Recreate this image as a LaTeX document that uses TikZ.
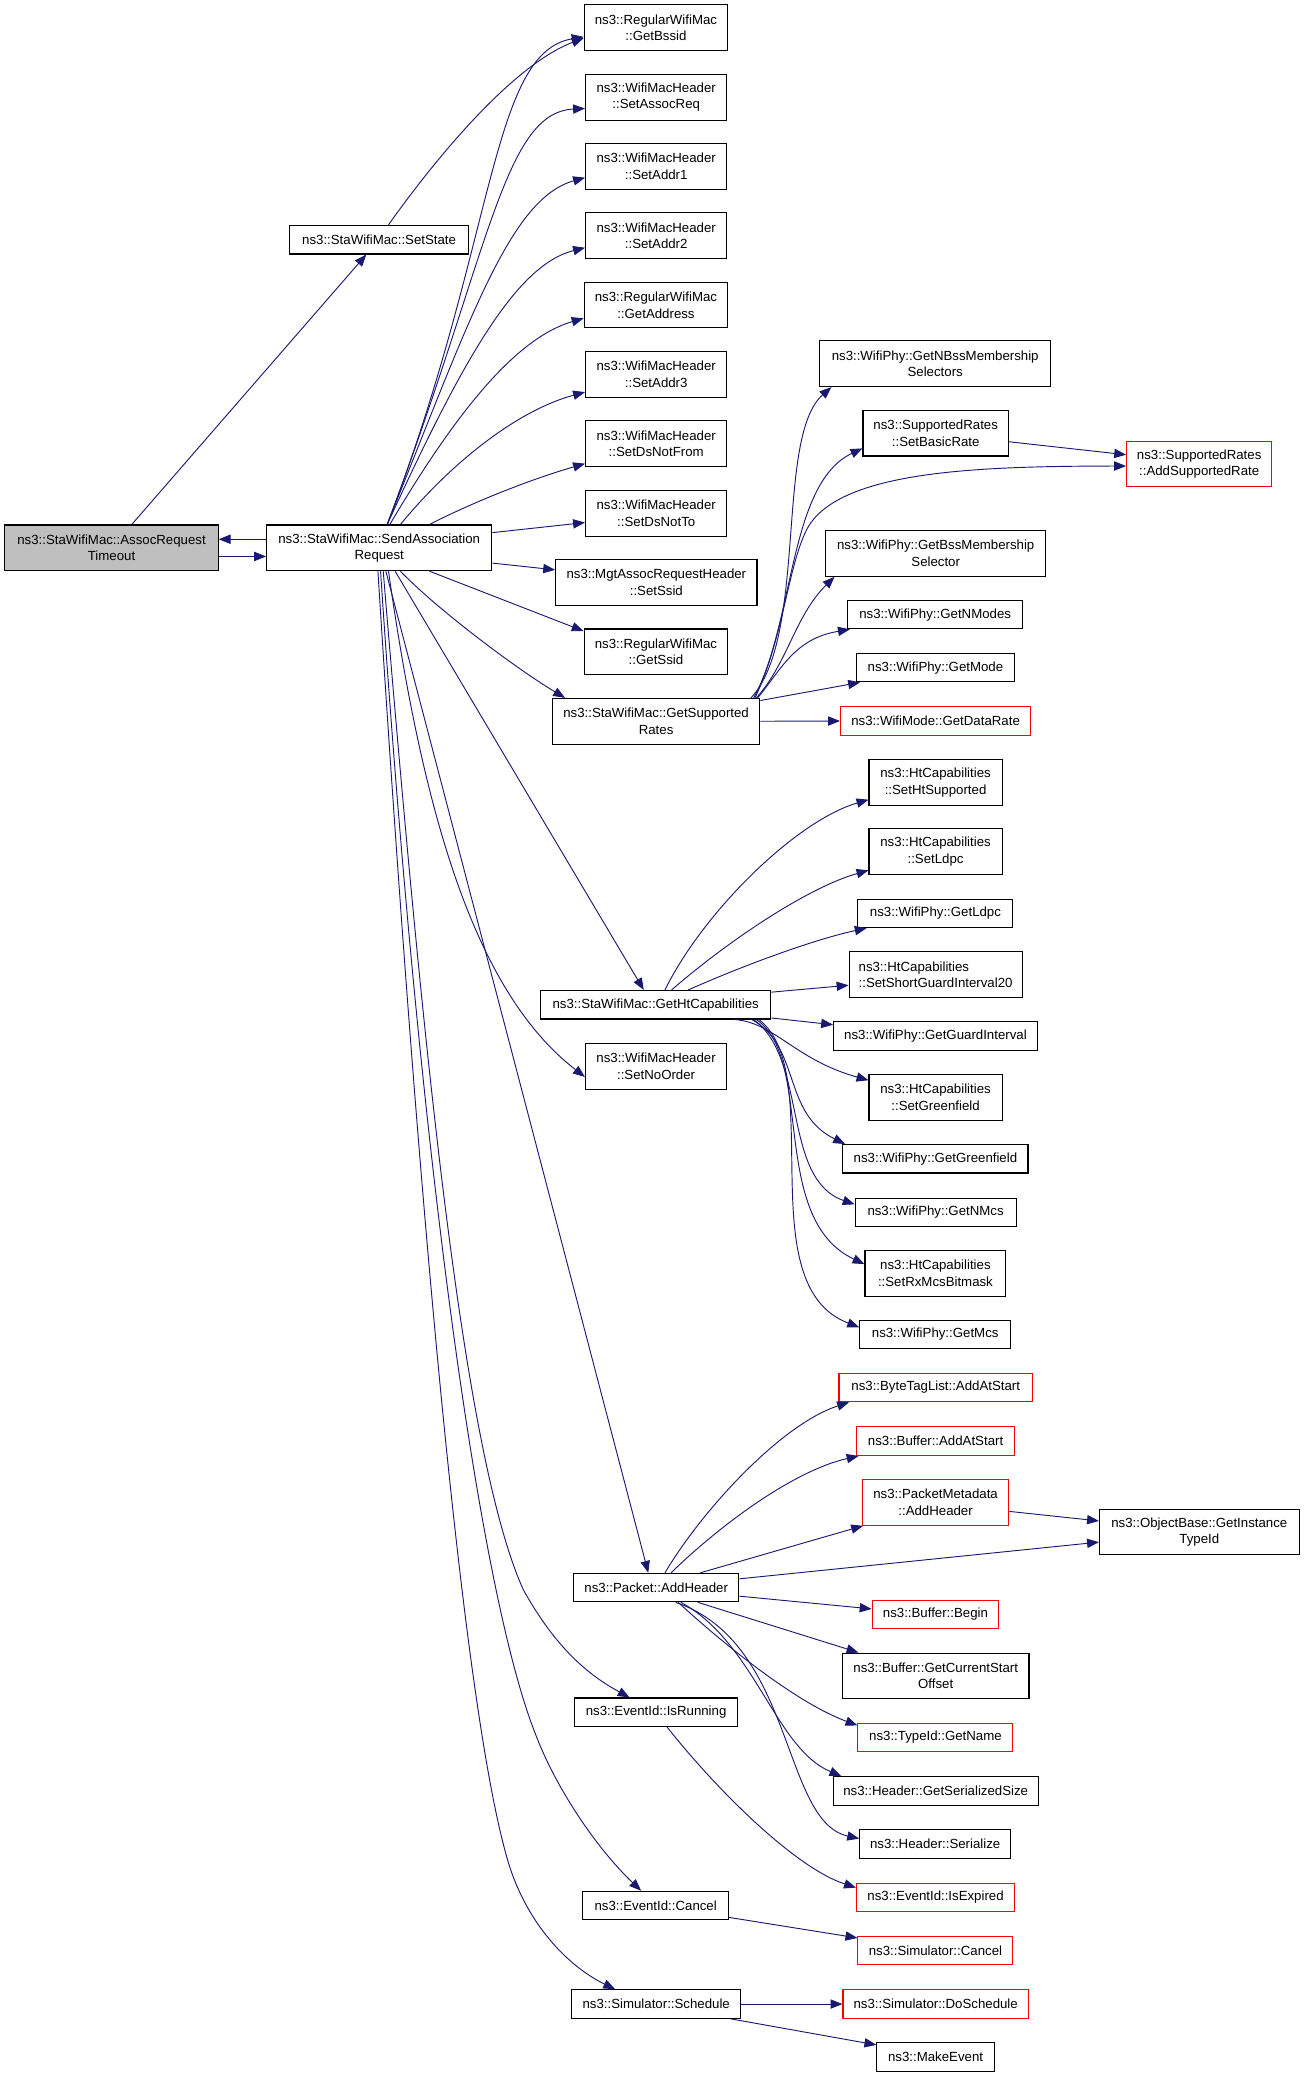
\documentclass[tikz,border=0pt]{standalone}
\usepackage{fontspec}
\setmainfont{Liberation Sans}
\usetikzlibrary{arrows.meta}
\definecolor{edgeblue}{RGB}{25,25,112}
\definecolor{rootgray}{RGB}{191,191,191}
\begin{document}
\begin{tikzpicture}[x=1pt, y=-1pt,
  fn/.style={draw=black, line width=0.8pt, inner sep=0pt, align=center,
    font=\fontsize{10}{12.4}\selectfont, minimum height=21.5pt},
  two/.style={minimum height=34.5pt},
  missing/.style={draw=red},
  root/.style={fill=rootgray},
  edge/.style={draw=edgeblue, line width=0.7pt, -{Triangle[length=9pt,width=7pt]}}]
  \useasboundingbox (0,0) rectangle (986,1568);

  \node[fn, two, root, minimum width=161pt] (assoc) at (84.2,413.6) {ns3::StaWifiMac::AssocRequest\\Timeout};
  \node[fn, two, minimum width=170pt] (send) at (286.3,413.6) {ns3::StaWifiMac::SendAssociation\\Request};
  \node[fn, minimum width=135pt] (setstate) at (286.2,181) {ns3::StaWifiMac::SetState};

  \node[fn, two, minimum width=108.4pt] (bssid) at (495.2,20.8) {ns3::RegularWifiMac\\::GetBssid};
  \node[fn, two, minimum width=106.7pt] (assocreq) at (495.4,73.4) {ns3::WifiMacHeader\\::SetAssocReq};
  \node[fn, two, minimum width=106.7pt] (addr1) at (495.4,125.6) {ns3::WifiMacHeader\\::SetAddr1};
  \node[fn, two, minimum width=106.7pt] (addr2) at (495.4,178) {ns3::WifiMacHeader\\::SetAddr2};
  \node[fn, two, minimum width=108.4pt] (getaddress) at (495.2,230.3) {ns3::RegularWifiMac\\::GetAddress};
  \node[fn, two, minimum width=106.7pt] (addr3) at (495.4,282.5) {ns3::WifiMacHeader\\::SetAddr3};
  \node[fn, two, minimum width=106.7pt] (dsnotfrom) at (495.4,335) {ns3::WifiMacHeader\\::SetDsNotFrom};
  \node[fn, two, minimum width=106.7pt] (dsnotto) at (495.4,387.5) {ns3::WifiMacHeader\\::SetDsNotTo};
  \node[fn, two, minimum width=152pt] (setssid) at (495.5,439.7) {ns3::MgtAssocRequestHeader\\::SetSsid};
  \node[fn, two, minimum width=108.4pt] (getssid) at (495.2,492.1) {ns3::RegularWifiMac\\::GetSsid};
  \node[fn, two, minimum width=156.6pt] (gsr) at (495.3,544.5) {ns3::StaWifiMac::GetSupported\\Rates};
  \node[fn, minimum width=174pt] (ghc) at (495,758.5) {ns3::StaWifiMac::GetHtCapabilities};
  \node[fn, two, minimum width=106.7pt] (noorder) at (495.3,805) {ns3::WifiMacHeader\\::SetNoOrder};
  \node[fn, minimum width=124.8pt] (addheader) at (495.4,1198.5) {ns3::Packet::AddHeader};
  \node[fn, minimum width=122.7pt] (isrunning) at (495.3,1292.6) {ns3::EventId::IsRunning};
  \node[fn, minimum width=110pt] (evcancel) at (495,1438.5) {ns3::EventId::Cancel};
  \node[fn, minimum width=127.3pt] (schedule) at (495.4,1512.9) {ns3::Simulator::Schedule};

  \node[fn, two, minimum width=174pt] (gnbss) at (706,274.6) {ns3::WifiPhy::GetNBssMembership\\Selectors};
  \node[fn, two, minimum width=109.8pt] (setbasicrate) at (706.4,327) {ns3::SupportedRates\\::SetBasicRate};
  \node[fn, two, missing, minimum width=109.5pt] (addsupportedrate) at (905.3,350.3) {ns3::SupportedRates\\::AddSupportedRate};
  \node[fn, two, minimum width=166pt] (gbss) at (706.4,417.8) {ns3::WifiPhy::GetBssMembership\\Selector};
  \node[fn, minimum width=132pt] (getnmodes) at (706,464) {ns3::WifiPhy::GetNModes};
  \node[fn, minimum width=119pt] (getmode) at (706.2,504) {ns3::WifiPhy::GetMode};
  \node[fn, missing, minimum width=143.5pt] (getdatarate) at (706.3,544.3) {ns3::WifiMode::GetDataRate};

  \node[fn, two, minimum width=100.5pt] (sethtsupported) at (706.3,590.7) {ns3::HtCapabilities\\::SetHtSupported};
  \node[fn, two, minimum width=100.5pt] (setldpc) at (706.3,643) {ns3::HtCapabilities\\::SetLdpc};
  \node[fn, minimum width=117pt] (getldpc) at (706.2,689.5) {ns3::WifiPhy::GetLdpc};
  \node[fn, two, align=left, minimum width=130.6pt] (setsgi20) at (706.3,735.8) {ns3::HtCapabilities\\::SetShortGuardInterval20};
  \node[fn, minimum width=153.7pt] (getguardinterval) at (706.2,782.2) {ns3::WifiPhy::GetGuardInterval};
  \node[fn, two, minimum width=100.5pt] (setgreenfield) at (706.3,828.5) {ns3::HtCapabilities\\::SetGreenfield};
  \node[fn, minimum width=139.7pt] (getgreenfield) at (706.2,874.8) {ns3::WifiPhy::GetGreenfield};
  \node[fn, minimum width=121.5pt] (getnmcs) at (706.3,915.2) {ns3::WifiPhy::GetNMcs};
  \node[fn, two, minimum width=106.4pt] (setrxmcsbitmask) at (706.2,961.3) {ns3::HtCapabilities\\::SetRxMcsBitmask};
  \node[fn, minimum width=114pt] (getmcs) at (706,1007.5) {ns3::WifiPhy::GetMcs};

  \node[fn, missing, minimum width=146pt] (bytetaglist) at (706.4,1047.5) {ns3::ByteTagList::AddAtStart};
  \node[fn, missing, minimum width=119.4pt] (bufaddatstart) at (706.3,1088) {ns3::Buffer::AddAtStart};
  \node[fn, two, missing, minimum width=110.6pt] (pktmeta) at (706.3,1134.2) {ns3::PacketMetadata\\::AddHeader};
  \node[fn, two, minimum width=150.7pt] (objbase) at (905.4,1156.6) {ns3::ObjectBase::GetInstance\\TypeId};
  \node[fn, missing, minimum width=95.6pt] (bufbegin) at (706.2,1218.8) {ns3::Buffer::Begin};
  \node[fn, two, minimum width=140.8pt] (curstartoffset) at (706.4,1265.2) {ns3::Buffer::GetCurrentStart\\Offset};
  \node[fn, missing, minimum width=117pt] (getname) at (706.2,1311.7) {ns3::TypeId::GetName};
  \node[fn, minimum width=154.8pt] (serializedsize) at (706.4,1352) {ns3::Header::GetSerializedSize};
  \node[fn, minimum width=114pt] (serialize) at (706,1392) {ns3::Header::Serialize};
  \node[fn, missing, minimum width=119.4pt] (isexpired) at (706.3,1432.4) {ns3::EventId::IsExpired};
  \node[fn, missing, minimum width=117pt] (simcancel) at (706.2,1472.4) {ns3::Simulator::Cancel};
  \node[fn, missing, minimum width=140pt] (doschedule) at (706.4,1512.9) {ns3::Simulator::DoSchedule};
  \node[fn, minimum width=88.6pt] (makeevent) at (706.3,1552.9) {ns3::MakeEvent};

  \draw[edge] (assoc) -- (setstate);
  \draw[edge] ([yshift=-6.5pt]assoc.east) -- ([yshift=-6.5pt]send.west);
  \draw[edge] ([yshift=6.5pt]send.west) -- ([yshift=6.5pt]assoc.east);
  \draw[edge] ([xshift=7pt]setstate.north) .. controls (325,125) and (385,50) .. ([yshift=-8pt]bssid.west);

  \draw[edge] ([xshift=6pt]send.north) .. controls (375,180) and (370,40) .. ([yshift=-7pt]bssid.west);
  \draw[edge] ([xshift=6pt]send.north) .. controls (370,190) and (380,85) .. ([yshift=-8.5pt]assocreq.west);
  \draw[edge] ([xshift=6pt]send.north) .. controls (355,240) and (385,150) .. ([yshift=-8.5pt]addr1.west);
  \draw[edge] ([xshift=6pt]send.north) .. controls (350,270) and (390,200) .. ([yshift=-9pt]addr2.west);
  \draw[edge] ([xshift=8pt]send.north) .. controls (345,310) and (390,255) .. ([yshift=-10pt]getaddress.west);
  \draw[edge] ([xshift=16pt]send.north) .. controls (340,350) and (390,310) .. ([yshift=-13.5pt]addr3.west);
  \draw[edge] ([xshift=38pt]send.north) .. controls (355,380) and (400,362) .. ([yshift=-15pt]dsnotfrom.west);
  \draw[edge] ([yshift=11.5pt]send.east) -- ([yshift=-7pt]dsnotto.west);
  \draw[edge] ([yshift=-11.5pt]send.east) -- ([yshift=9.5pt]setssid.west);
  \draw[edge] ([xshift=38pt]send.south) -- ([yshift=-2pt]getssid.north west);
  \draw[edge] ([xshift=16pt]send.south) .. controls (330,460) and (390,505) .. ([xshift=10pt]gsr.north west);
  \draw[edge] ([xshift=12pt]send.south) -- ([xshift=-9pt]ghc.north);
  \draw[edge] ([xshift=7pt]send.south) .. controls (320,620) and (360,750) .. ([yshift=-8pt]noorder.west);
  \draw[edge] ([xshift=5pt]send.south) -- ([xshift=-6pt]addheader.north);
  \draw[edge] ([xshift=3pt]send.south) .. controls (320,800) and (350,1100) .. (395,1200)
    .. controls (420,1245) and (445,1265) .. ([xshift=-20pt]isrunning.north);
  \draw[edge] ([xshift=1pt]send.south) .. controls (315,850) and (360,1200) .. (405,1311)
    .. controls (420,1350) and (450,1395) .. ([xshift=-11pt]evcancel.north);
  \draw[edge] ([xshift=-1pt]send.south) .. controls (315,900) and (350,1300) .. (385,1410)
    .. controls (400,1455) and (430,1485) .. ([xshift=-31pt]schedule.north);

  \draw[edge] ([xshift=-7pt]gsr.north east) .. controls (610,480) and (585,330) .. ([xshift=9pt]gnbss.south west);
  \draw[edge] ([xshift=-5pt]gsr.north east) .. controls (600,470) and (595,365) .. ([yshift=-11.5pt]setbasicrate.west);
  \draw[edge] ([xshift=-4pt]gsr.north east) .. controls (592,480) and (595,425) .. (610,398)
    .. controls (635,355) and (740,352) .. ([yshift=-1.5pt]addsupportedrate.west);
  \draw[edge] ([xshift=-3pt]gsr.north east) .. controls (595,500) and (600,465) .. ([xshift=7pt]gbss.south west);
  \draw[edge] ([xshift=-2pt]gsr.north east) .. controls (590,505) and (600,482) .. ([xshift=2pt]getnmodes.south west);
  \draw[edge] ([yshift=-2pt]gsr.north east) -- ([xshift=3pt]getmode.south west);
  \draw[edge] (gsr.east) -- (getdatarate.west);
  \draw[edge] ([yshift=-6.5pt]setbasicrate.east) -- ([yshift=7pt]addsupportedrate.west);

  \draw[edge] ([xshift=7pt]ghc.north) .. controls (530,690) and (600,620) .. ([yshift=-13pt]sethtsupported.west);
  \draw[edge] ([xshift=12pt]ghc.north) .. controls (550,710) and (610,670) .. ([yshift=-14pt]setldpc.west);
  \draw[edge] ([xshift=24.5pt]ghc.north) .. controls (570,725) and (620,708) .. ([xshift=7pt]getldpc.south west);
  \draw[edge] ([yshift=9.5pt]ghc.east) -- ([yshift=-8pt]setsgi20.west);
  \draw[edge] ([yshift=-10pt]ghc.east) -- ([yshift=8.6pt]getguardinterval.west);
  \draw[edge] ([xshift=59.5pt]ghc.south) .. controls (585,772) and (600,800) .. ([yshift=13pt]setgreenfield.west);
  \draw[edge] ([xshift=72.4pt]ghc.south) .. controls (605,790) and (590,840) .. ([xshift=2pt]getgreenfield.north west);
  \draw[edge] ([xshift=74pt]ghc.south) .. controls (610,800) and (590,890) .. ([yshift=6pt]getnmcs.west);
  \draw[edge] ([xshift=76pt]ghc.south) .. controls (615,800) and (580,920) .. ([yshift=7pt]setrxmcsbitmask.west);
  \draw[edge] ([xshift=78pt]ghc.south) .. controls (625,810) and (565,970) .. ([yshift=5.5pt]getmcs.west);

  \draw[edge] ([xshift=6.6pt]addheader.north) .. controls (530,1140) and (590,1075) .. ([xshift=8pt]bytetaglist.south west);
  \draw[edge] ([xshift=11.2pt]addheader.north) .. controls (545,1150) and (600,1110) .. ([xshift=2pt]bufaddatstart.south west);
  \draw[edge] ([xshift=33.3pt]addheader.north) -- ([xshift=1pt]pktmeta.south west);
  \draw[edge] ([yshift=6.6pt]addheader.east) -- ([yshift=-7.6pt]objbase.west);
  \draw[edge] ([yshift=-6.8pt]pktmeta.east) -- ([yshift=8.4pt]objbase.west);
  \draw[edge] ([yshift=-6.5pt]addheader.east) -- ([yshift=4.2pt]bufbegin.west);
  \draw[edge] ([xshift=31.4pt]addheader.south) -- ([xshift=12.5pt]curstartoffset.north west);
  \draw[edge] ([xshift=16.6pt]addheader.south) .. controls (545,1240) and (600,1285) .. ([yshift=-2pt]getname.north west);
  \draw[edge] ([xshift=18.6pt]addheader.south) .. controls (570,1240) and (585,1320) .. ([xshift=6.6pt]serializedsize.north west);
  \draw[edge] ([xshift=14.6pt]addheader.south) .. controls (600,1240) and (590,1375) .. ([yshift=4pt]serialize.west);

  \draw[edge] ([xshift=8.3pt]isrunning.south) .. controls (540,1350) and (600,1410) .. ([yshift=7.4pt]isexpired.west);
  \draw[edge] ([yshift=-9pt]evcancel.east) -- ([yshift=9.4pt]simcancel.west);
  \draw[edge] (schedule.east) -- (doschedule.west);
  \draw[edge] ([xshift=-8pt]schedule.south east) -- ([yshift=-2pt]makeevent.north west);
\end{tikzpicture}
\end{document}
